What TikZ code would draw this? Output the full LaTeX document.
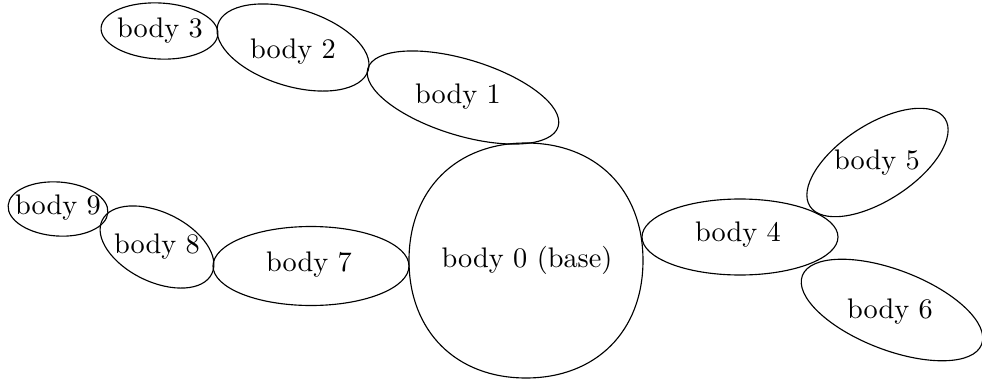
\documentclass[tikz,border=0pt]{standalone}
\usetikzlibrary{shapes.geometric}
\begin{document}
\begin{tikzpicture}[x=0.3533pt, y=-0.3533pt,
  shell/.style n args={3}{ellipse, draw, inner sep=0pt, outer sep=0pt,
    minimum width={2*#1*0.3533pt}, minimum height={2*#2*0.3533pt}, rotate=#3},
  lbl/.style={inner sep=0pt}]
\useasboundingbox (0,0) rectangle (982,383);
% base body
\coordinate (c0) at (526,260.5);
\draw[shift={(c0)}] (117,0) .. controls (117,70.5) and (70.2,117.5) .. (0,117.5)
  .. controls (-70.2,117.5) and (-117,70.5) .. (-117,0)
  .. controls (-117,-70.5) and (-70.2,-117.5) .. (0,-117.5)
  .. controls (70.2,-117.5) and (117,-70.5) .. (117,0) -- cycle;
\node[lbl] (t0) at (527,260) {body 0 (base)};
% other bodies
\node[shell={99.5}{38}{-17}] (e1) at (463,97.5) {};
\node[shell={78.6}{38.7}{-17}] (e2) at (293,47.5) {};
\node[shell={58.5}{28}{-3}] (e3) at (159.5,31) {};
\node[shell={98}{38}{0}] (e4) at (740,237) {};
\node[shell={80.5}{38}{33}] (e5) at (877.5,162.5) {};
\node[shell={96}{40}{-21}] (e6) at (892,310) {};
\node[shell={98}{39.5}{0}] (e7) at (311,266) {};
\node[shell={61}{34.7}{-26}] (e8) at (157,247) {};
\node[shell={50}{27}{-4}] (e9) at (58,209) {};
\node[lbl] (t1) at (458,97) {body 1};
\node[lbl] (t2) at (293,52) {body 2};
\node[lbl] (t3) at (160,31) {body 3};
\node[lbl] (t4) at (738,235) {body 4};
\node[lbl] (t5) at (877,163) {body 5};
\node[lbl] (t6) at (890,312) {body 6};
\node[lbl] (t7) at (309,265) {body 7};
\node[lbl] (t8) at (157,247) {body 8};
\node[lbl] (t9) at (58,208) {body 9};
\end{tikzpicture}
\end{document}
